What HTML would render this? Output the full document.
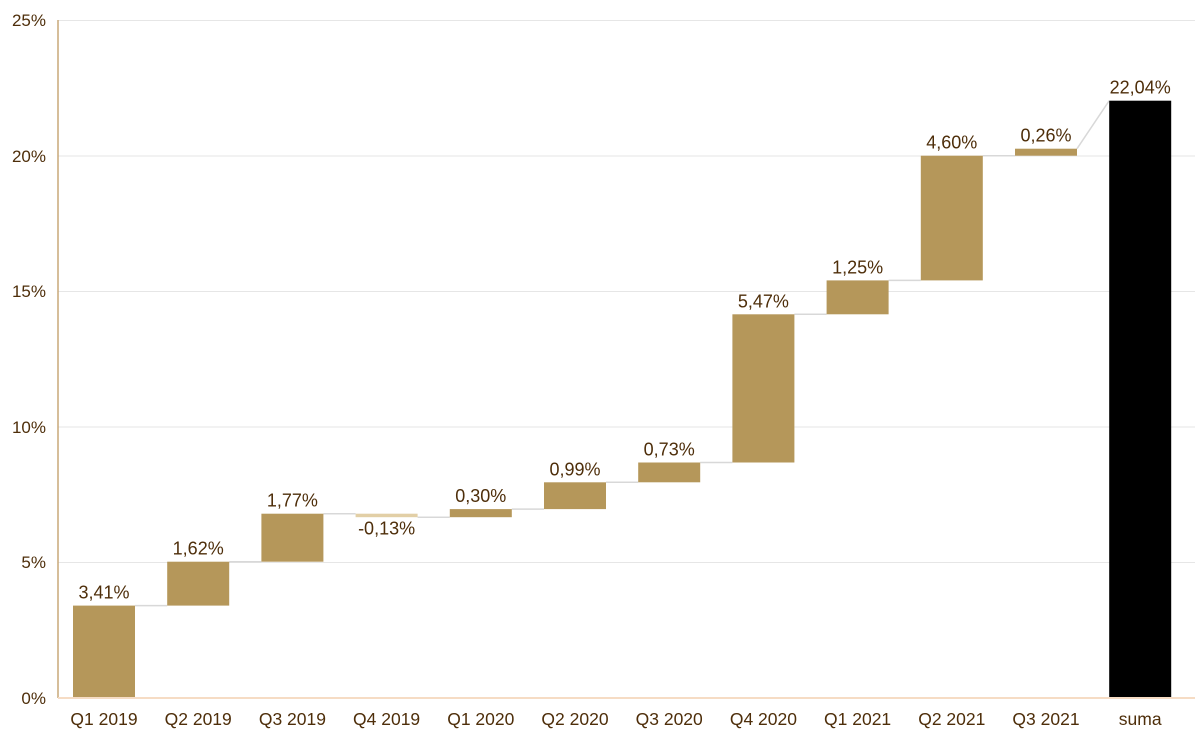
<!DOCTYPE html>
<html><head><meta charset="utf-8"><style>body{margin:0;background:#fff}svg{display:block}text{font-family:"Liberation Sans",Arial,sans-serif;fill:#4e2e0a}</style></head><body>
<svg width="1200" height="744" viewBox="0 0 1200 744">
<g stroke="#e6e6e6" stroke-width="1">
<line x1="58" x2="1195" y1="562.5" y2="562.5"/><line x1="58" x2="1195" y1="427" y2="427"/><line x1="58" x2="1195" y1="291.5" y2="291.5"/><line x1="58" x2="1195" y1="156" y2="156"/><line x1="58" x2="1195" y1="20.5" y2="20.5"/>
</g>
<g font-size="17" text-anchor="end">
<text x="46" y="704">0%</text><text x="46" y="568">5%</text><text x="46" y="433">10%</text><text x="46" y="297">15%</text><text x="46" y="162">20%</text><text x="46" y="26">25%</text>
</g>
<g stroke="#d8d8d8" stroke-width="1.5">
<line x1="135" x2="167.2" y1="605.6" y2="605.6"/>
<line x1="229.2" x2="261.4" y1="561.7" y2="561.7"/>
<line x1="323.4" x2="355.6" y1="513.7" y2="513.7"/>
<line x1="417.6" x2="449.8" y1="517.2" y2="517.2"/>
<line x1="511.8" x2="544" y1="509.1" y2="509.1"/>
<line x1="606" x2="638.2" y1="482.3" y2="482.3"/>
<line x1="700.2" x2="732.4" y1="462.5" y2="462.5"/>
<line x1="794.4" x2="826.6" y1="314.3" y2="314.3"/>
<line x1="888.6" x2="920.8" y1="280.4" y2="280.4"/>
<line x1="982.8" x2="1015" y1="155.7" y2="155.7"/>
<line x1="1077" x2="1109.2" y1="148.7" y2="100.7"/>
</g>
<g fill="#b5975a">
<rect x="73" y="605.6" width="62" height="92.4"/>
<rect x="167.2" y="561.7" width="62" height="43.9"/>
<rect x="261.4" y="513.7" width="62" height="48"/>
<rect x="355.6" y="513.7" width="62" height="3.5" fill="#e2cfa6"/>
<rect x="449.8" y="509.1" width="62" height="8.1"/>
<rect x="544" y="482.3" width="62" height="26.8"/>
<rect x="638.2" y="462.5" width="62" height="19.8"/>
<rect x="732.4" y="314.3" width="62" height="148.2"/>
<rect x="826.6" y="280.4" width="62" height="33.9"/>
<rect x="920.8" y="155.7" width="62" height="124.7"/>
<rect x="1015" y="148.7" width="62" height="7"/>
<rect x="1109.2" y="100.7" width="62" height="597.3" fill="#000"/>
</g>
<g font-size="18" text-anchor="middle">
<text x="104" y="598.6">3,41%</text>
<text x="198.2" y="554.7">1,62%</text>
<text x="292.4" y="506.7">1,77%</text>
<text x="386.6" y="534.7">-0,13%</text>
<text x="480.8" y="502.1">0,30%</text>
<text x="575" y="475.3">0,99%</text>
<text x="669.2" y="455.5">0,73%</text>
<text x="763.4" y="307.3">5,47%</text>
<text x="857.6" y="273.4">1,25%</text>
<text x="951.8" y="148.7">4,60%</text>
<text x="1046" y="141.7">0,26%</text>
<text x="1140.2" y="93.7">22,04%</text>
</g>
<g font-size="17.5" text-anchor="middle">
<text x="104" y="725">Q1 2019</text><text x="198.2" y="725">Q2 2019</text><text x="292.4" y="725">Q3 2019</text><text x="386.6" y="725">Q4 2019</text><text x="480.8" y="725">Q1 2020</text><text x="575" y="725">Q2 2020</text><text x="669.2" y="725">Q3 2020</text><text x="763.4" y="725">Q4 2020</text><text x="857.6" y="725">Q1 2021</text><text x="951.8" y="725">Q2 2021</text><text x="1046" y="725">Q3 2021</text><text x="1140.2" y="725">suma</text>
</g>
<line x1="58" x2="58" y1="20" y2="698" stroke="#c8a878" stroke-width="1.5"/>
<line x1="58" x2="1195" y1="698" y2="698" stroke="#f6dcc4" stroke-width="2"/>
</svg>
</body></html>
